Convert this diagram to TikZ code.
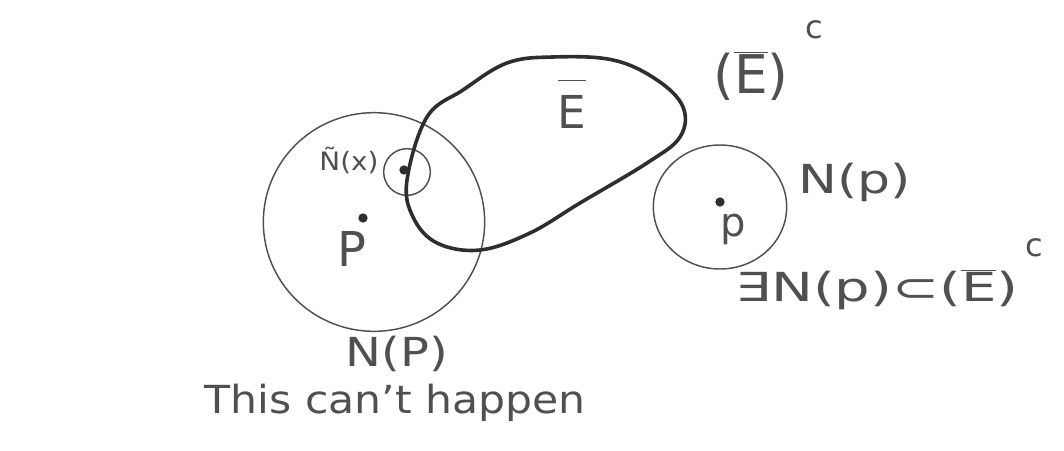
\documentclass[tikz,border=0pt]{standalone}
\usepackage{fontspec}
\setmainfont{DejaVu Sans}
\usetikzlibrary{shapes.geometric}
\definecolor{ink}{HTML}{505050}
\definecolor{inkdark}{HTML}{2E2E2E}
\newcommand\myEbar{\ensuremath{\overline{\hbox{E}}}}
\newcommand\myEbarHigh{\ensuremath{\overline{\rule{0pt}{1.02em}\hbox{E}}}}
\begin{document}
\begin{tikzpicture}[x=0.75pt,y=-0.75pt,
  thinring/.style={draw=ink, line width=1.1pt, ellipse, inner sep=0pt},
  blobline/.style={draw=inkdark, line width=2.7pt, line join=round},
  pdot/.style={circle, fill=inkdark, inner sep=0pt, minimum size=7pt},
  hand/.style={text=ink, inner sep=0pt, anchor=center}
]
\useasboundingbox[fill=white] (0,0) rectangle (1064,450);

% big neighbourhood N(P)
\node[thinring, minimum width=166pt, minimum height=164pt] (bigN) at (374,222) {};
% small neighbourhood of x
\node[thinring, minimum width=35pt, minimum height=35pt] (smallN) at (407,172) {};
\node[pdot] (xdot) at (404,170) {};
\node[pdot] (pdotL) at (363,218) {};

% thick blob E-bar
\draw[blobline] plot[smooth cycle, tension=0.62] coordinates {
  (407,180) (427,117) (463,90) (507,63) (553,57) (613,60) (657,80)
  (683,107) (680,137) (647,163) (580,203) (530,233) (480,250)
  (437,243) (413,217)};

% right neighbourhood
\node[thinring, minimum width=100pt, minimum height=93pt] (rightN) at (720,207) {};
\node[pdot] (pdotR) at (720,202) {};

% labels
\node[hand, font=\fontsize{19}{22}\selectfont] (lblNx) at (349,161) {\scalebox{1.1}[1]{Ñ(x)}};
\node[hand, font=\fontsize{36}{40}\selectfont] (lblPL) at (352,249) {P};
\node[hand, font=\fontsize{34}{38}\selectfont] (lblE) at (572,104) {\myEbarHigh};
\node[hand, font=\fontsize{40}{44}\selectfont] (lblEc) at (751,76) {(\myEbar)};
\node[hand, font=\fontsize{24}{28}\selectfont] (lblEcc) at (814,30) {c};
\node[hand, font=\fontsize{30}{34}\selectfont] (lblNpR) at (855,182) {\scalebox{1.3}[1]{N(p)}};
\node[hand, font=\fontsize{30}{34}\selectfont] (lblpR) at (733,229) {p};
\node[hand, font=\fontsize{30}{34}\selectfont] (lblExists) at (877,290) {\scalebox{1.4}[1]{∃N(p)⊂(\myEbar)}};
\node[hand, font=\fontsize{24}{28}\selectfont] (lblExc) at (1034,248) {c};
\node[hand, font=\fontsize{30}{34}\selectfont] (lblNPb) at (397,354) {\scalebox{1.2}[1]{N(P)}};
\node[hand, font=\fontsize{29}{33}\selectfont] (lblHappen) at (395,403) {\scalebox{1.1}[1]{This can't happen}};
\end{tikzpicture}
\end{document}
